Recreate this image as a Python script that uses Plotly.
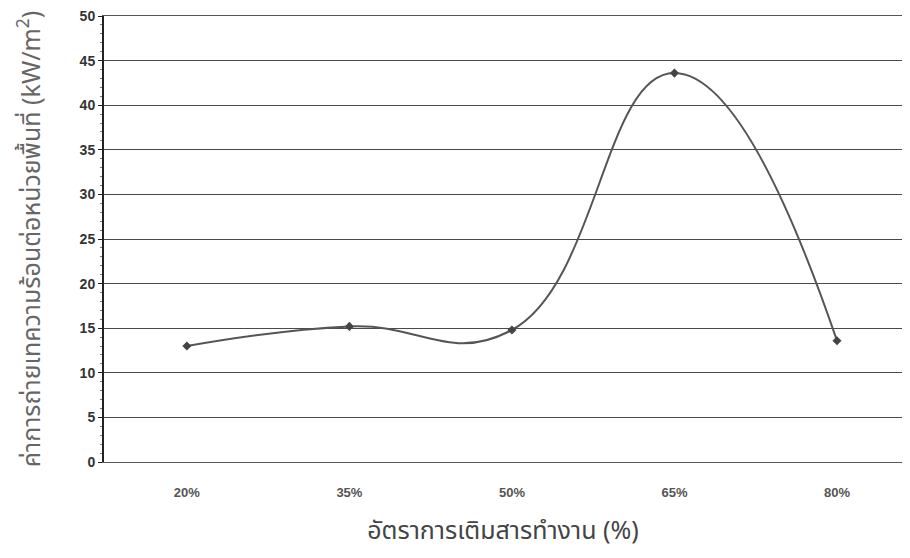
import plotly.graph_objects as go

categories = ["20%", "35%", "50%", "65%", "80%"]
heat_flux = [13.0, 15.2, 14.8, 43.6, 13.6]
y_ticks = [0, 5, 10, 15, 20, 25, 30, 35, 40, 45, 50]

x_title = "อัตราการเติมสารทำงาน (%)"
y_title = "ค่าการถ่ายเทความร้อนต่อหน่วยพื้นที่ (kW/m<sup>2</sup>)"

thai_font = "Noto Sans Thai, Loma, Garuda, Noto Sans, sans-serif"
latin_font = "Liberation Sans, Arial, sans-serif"

fig = go.Figure()
fig.add_trace(go.Scatter(
    x=categories, y=heat_flux, mode="lines+markers",
    line=dict(color="#555555", width=2, shape="spline", smoothing=1.3),
    marker=dict(symbol="diamond", size=7, color="#444444"),
    showlegend=False,
))

# page body has an 8px margin, so the figure is sized to fit inside the window
fig.update_layout(
    width=894, height=542,
    margin=dict(l=96, r=0, t=8, b=88),
    paper_bgcolor="white", plot_bgcolor="white",
    font=dict(family=latin_font, size=12, color="#333333"),
)
fig.update_xaxes(
    type="category", range=[-0.51, 4.4], automargin=False,
    showline=True, linecolor="#555555", linewidth=1, mirror=True,
    showgrid=False, ticks="",
    ticklabelstandoff=18,
    tickfont=dict(size=13, color="#555555", family=latin_font, weight="bold"),
    title=dict(text=x_title, font=dict(size=25, color="#444444", family=thai_font), standoff=24),
)
fig.update_yaxes(
    range=[0, 50], tickvals=y_ticks, automargin=False,
    ticklabeloverflow="allow",
    showline=True, linecolor="#222222", linewidth=2,
    showgrid=True, gridcolor="#4a4a4a", gridwidth=1,
    ticks="outside", ticklen=4, tickcolor="#222222",
    minor=dict(ticks="outside", ticklen=2, dtick=1, tickcolor="#777777", showgrid=False),
    tickfont=dict(size=14, color="#333333", family=latin_font, weight="bold"),
    title=dict(text=y_title, font=dict(size=25, color="#666666", family=thai_font), standoff=32),
    zeroline=False,
)

fig.write_html("out.html")
